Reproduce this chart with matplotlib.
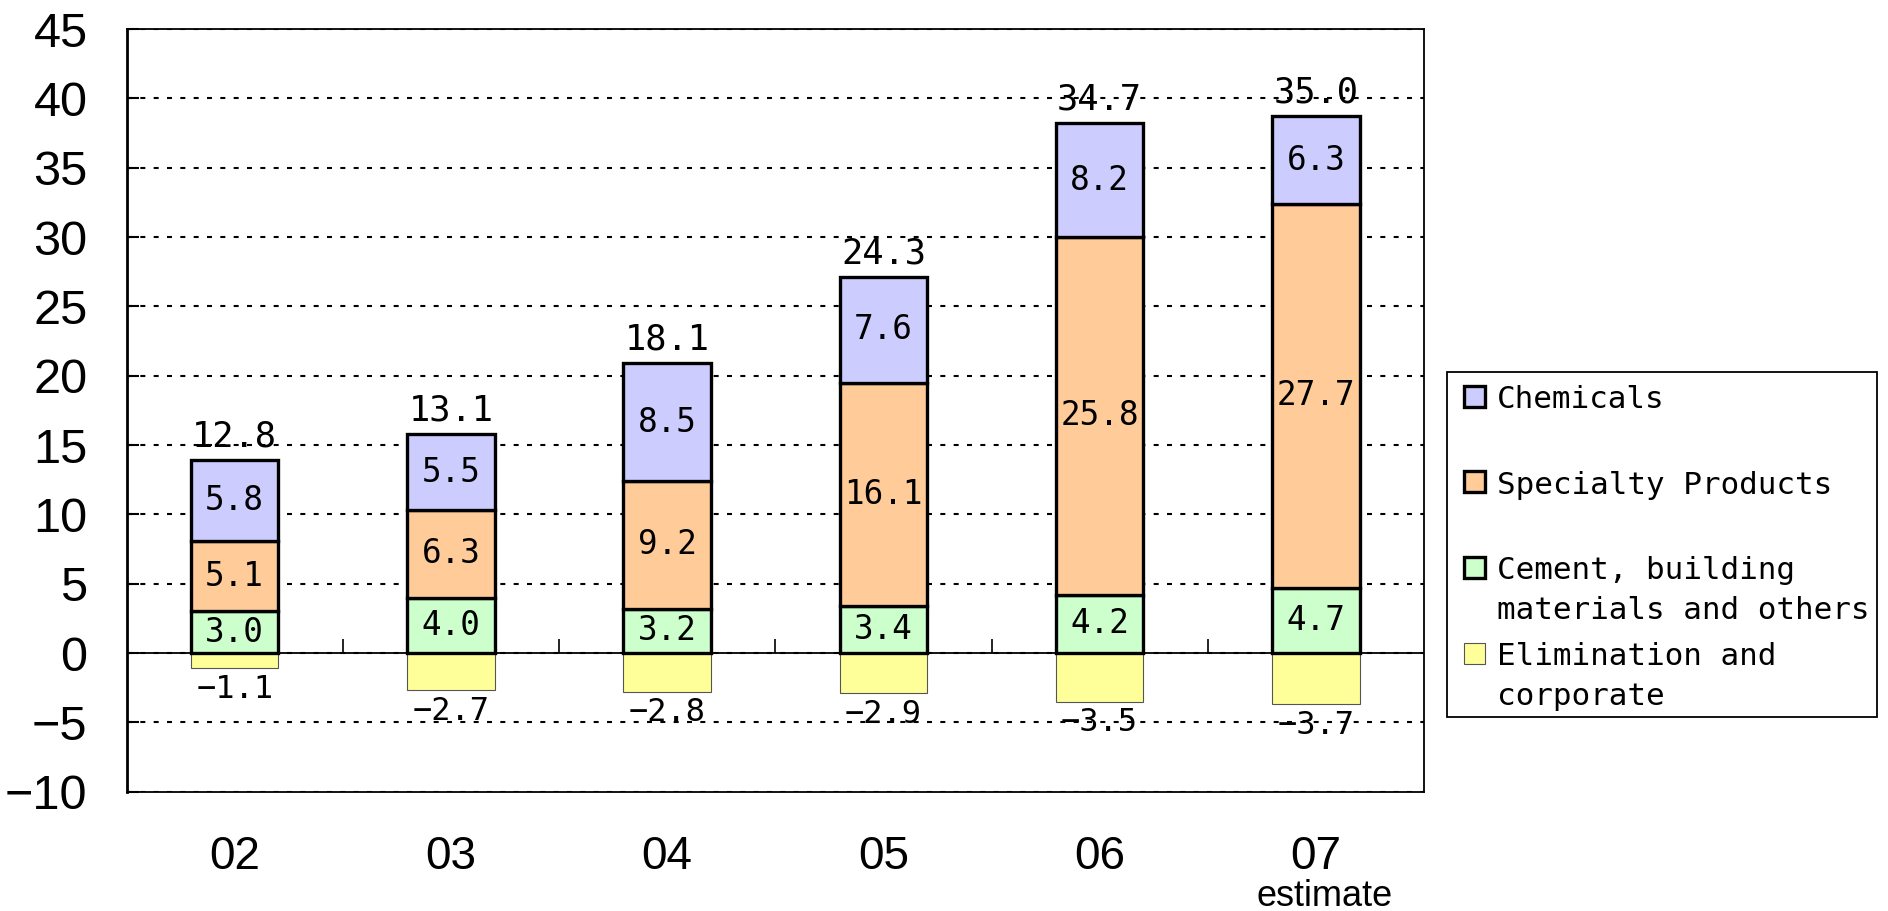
import matplotlib
matplotlib.use('Agg')
import matplotlib.pyplot as plt
from matplotlib.patches import Rectangle
import numpy as np

# ---------------- data ----------------
years = ['02', '03', '04', '05', '06', '07']
chemicals = [5.8, 5.5, 8.5, 7.6, 8.2, 6.3]
specialty = [5.1, 6.3, 9.2, 16.1, 25.8, 27.7]
cement = [3.0, 4.0, 3.2, 3.4, 4.2, 4.7]
elimination = [-1.1, -2.7, -2.8, -2.9, -3.5, -3.7]
totals = [12.8, 13.1, 18.1, 24.3, 34.7, 35.0]
series_names = ['Chemicals', 'Specialty Products',
                'Cement, building\nmaterials and others',
                'Elimination and\ncorporate']
colors = ['#CCCCFF', '#FFCC99', '#CCFFCC', '#FFFF99']
estimate_note = 'estimate'
yticks = list(range(-10, 50, 5))

# ---------------- style ----------------
W, H = 1888, 911
MONO = ['DejaVu Sans Mono']
SANS_N = ['Liberation Sans Narrow', 'Liberation Sans', 'DejaVu Sans']
SANS = ['Liberation Sans', 'DejaVu Sans']

def fmt(v):
    return f'{v:.1f}'.replace('-', '\u2212')

fig = plt.figure(figsize=(W / 100, H / 100), dpi=100)
ax = fig.add_axes([126.5 / W, 1 - 791.7 / H, 1297.5 / W, 762.7 / H])

x = np.arange(len(years))
bw = 0.405
cem = np.array(cement)
spe = np.array(specialty)
che = np.array(chemicals)
eli = np.array(elimination)

edge_kw = dict(edgecolor='black', linewidth=2.4, zorder=3)
ax.bar(x, cem, bw, color=colors[2], **edge_kw)
ax.bar(x, spe, bw, bottom=cem, color=colors[1], **edge_kw)
ax.bar(x, che, bw, bottom=cem + spe, color=colors[0], **edge_kw)
ax.bar(x, eli, bw, color=colors[3], edgecolor='#555555',
       linewidth=0.8, zorder=2.8)

# inner labels
for vals, bottoms in [(cem, np.zeros_like(cem)), (spe, cem), (che, cem + spe)]:
    for xi, v, b in zip(x, vals, bottoms):
        ax.text(xi, b + v / 2, fmt(v), ha='center', va='center',
                family=MONO, fontsize=23.5, zorder=6)

# totals above bars
tops = cem + spe + che
for xi, t, top in zip(x, totals, tops):
    ax.annotate(fmt(t), (xi, top), xytext=(0, 10), textcoords='offset points',
                ha='center', va='baseline', family=MONO, fontsize=25.5, zorder=6)

# negative labels
for xi, v in zip(x, eli):
    ax.annotate(fmt(v), (xi, v), xytext=(0, -4), textcoords='offset points',
                ha='center', va='top', family=MONO, fontsize=23, zorder=6)

# axes cosmetics
ax.set_xlim(-0.5, len(years) - 0.5)
ax.set_ylim(-10, 45)
ax.set_yticks(yticks)
ax.set_yticklabels([str(t).replace('-', '\u2212') for t in yticks],
                   family=SANS_N, fontsize=35)
ax.set_xticks(x)
ax.set_xticklabels(years, family=SANS_N, fontsize=33)
ax.tick_params(axis='x', length=0, pad=31)
ax.tick_params(axis='y', direction='in', length=8.5, width=1.5, pad=28)
for lab in ax.get_yticklabels():
    lab.set_verticalalignment('center_baseline')

ax.set_axisbelow(True)
ax.yaxis.grid(True, color='black', linestyle=(0, (2.4, 4.0)), linewidth=1.5)
for s in ['top', 'right', 'bottom']:
    ax.spines[s].set_linewidth(1.3)
ax.spines['left'].set_linewidth(2.0)

ax.axhline(0, color='black', linewidth=1.3, zorder=2.5)
ax.vlines(x[:-1] + 0.5, 0, 1.0, color='black', linewidth=1.2, zorder=2.5)

ax.annotate(estimate_note, (x[-1], -0.150), xycoords=('data', 'axes fraction'),
            xytext=(6.5, 0), textcoords='offset points',
            ha='center', va='baseline', family=SANS, fontsize=26)

# ---------------- legend (manual, figure pixels) ----------------
def fx(px):
    return px / W

def fy(py):
    return 1 - py / H

fig.patches.append(Rectangle((fx(1447), fy(717)), fx(1877) - fx(1447),
                             fy(372) - fy(717), transform=fig.transFigure,
                             facecolor='white', edgecolor='black', linewidth=1.3))
handle_styles = [dict(edgecolor='black', linewidth=2.4)] * 3 + \
                [dict(edgecolor='#555555', linewidth=0.8)]
for i, (name, col, st) in enumerate(zip(series_names, colors, handle_styles)):
    base = 408 + 85.7 * i
    cy = base - 12
    fig.patches.append(Rectangle((fx(1464), fy(cy + 10.5)), fx(21), 21 / H,
                                 transform=fig.transFigure, facecolor=col, **st))
    for k, line in enumerate(name.split('\n')):
        fig.text(fx(1497), fy(base + 40 * k), line, ha='left', va='baseline',
                 family=MONO, fontsize=22.3)

fig.savefig('out.png', dpi=100)
